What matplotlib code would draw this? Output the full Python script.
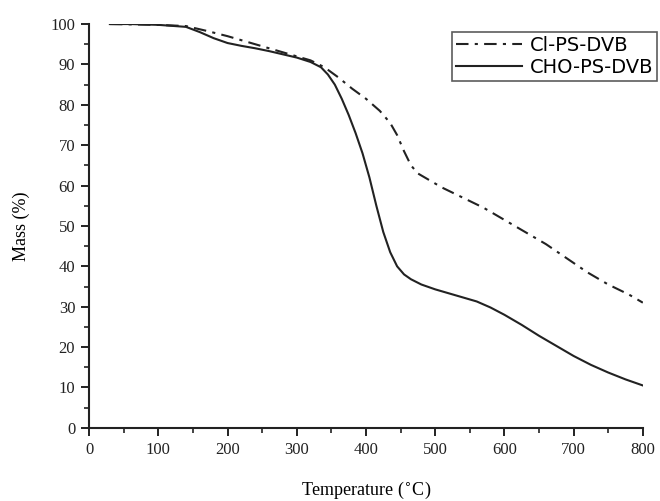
import matplotlib
matplotlib.use("Agg")
import matplotlib.pyplot as plt
from matplotlib.ticker import MultipleLocator

# TGA curves: temperature (C) vs. remaining mass (%)
t_cho = [30, 60, 100, 140, 160, 180, 200, 220, 240, 260, 280, 300, 320, 335, 345,
         355, 365, 375, 385, 395, 405, 415, 425, 435, 445, 455, 465, 480, 500, 520,
         540, 560, 580, 600, 625, 650, 675, 700, 725, 750, 775, 800]
m_cho = [100, 100, 99.8, 99.3, 98, 96.5, 95.3, 94.6, 94, 93.3, 92.5, 91.7, 90.6, 89.3, 87.5,
         85, 81.5, 77.5, 73, 68, 62, 55, 48.5, 43.5, 40, 38, 36.8, 35.5, 34.3, 33.3,
         32.3, 31.3, 29.8, 28, 25.5, 22.8, 20.3, 17.8, 15.6, 13.7, 12, 10.5]

t_cl = [30, 100, 140, 170, 200, 230, 260, 290, 320, 340, 360, 380, 400, 420, 435,
        445, 455, 465, 475, 490, 510, 540, 570, 600, 630, 660, 690, 720, 750, 780, 800]
m_cl = [100, 99.8, 99.5, 98.3, 97, 95.5, 94, 92.5, 91, 89.3, 86.8, 84, 81.5, 78.5, 75.5,
        72.5, 68.5, 65, 63, 61.5, 59.5, 57, 54.5, 51.5, 48.5, 45.5, 42, 38.5, 35.5, 33, 31]

plt.rcParams["font.family"] = ["Liberation Serif", "DejaVu Serif"]

fig = plt.figure(figsize=(6.6, 5.01), dpi=100)
ax = fig.add_axes([0.135, 0.146, 0.839, 0.806])

ax.plot(t_cl, m_cl, color="#222222", lw=1.5, dashes=(6, 3, 1.5, 3), label="Cl-PS-DVB")
ax.plot(t_cho, m_cho, color="#222222", lw=1.5, label="CHO-PS-DVB")

ax.set_xlim(0, 800)
ax.set_ylim(0, 100)
ax.xaxis.set_major_locator(MultipleLocator(100))
ax.xaxis.set_minor_locator(MultipleLocator(50))
ax.yaxis.set_major_locator(MultipleLocator(10))
ax.yaxis.set_minor_locator(MultipleLocator(5))
for s in ["top", "right"]:
    ax.spines[s].set_visible(False)
for s in ["left", "bottom"]:
    ax.spines[s].set_linewidth(1.5)
    ax.spines[s].set_color("#222222")
ax.tick_params(which="major", direction="out", length=6, width=1.4, labelsize=12,
               colors="#222222", pad=4)
ax.tick_params(which="minor", direction="out", length=3.5, width=1.2, colors="#222222")

ax.set_xlabel("Temperature ($^{\\circ}$C)", fontsize=13, labelpad=16)
ax.set_ylabel("Mass (%)", fontsize=13, labelpad=15)

leg = ax.legend(loc="upper right", bbox_to_anchor=(1.036, 0.995),
                prop={"family": "DejaVu Sans", "size": 14},
                frameon=True, fancybox=False, edgecolor="#333333",
                handlelength=3.4, handletextpad=0.4, borderpad=0.2, labelspacing=0.15,
                borderaxespad=0.3)
leg.get_frame().set_linewidth(1.2)

fig.savefig("out.png", dpi=100)
